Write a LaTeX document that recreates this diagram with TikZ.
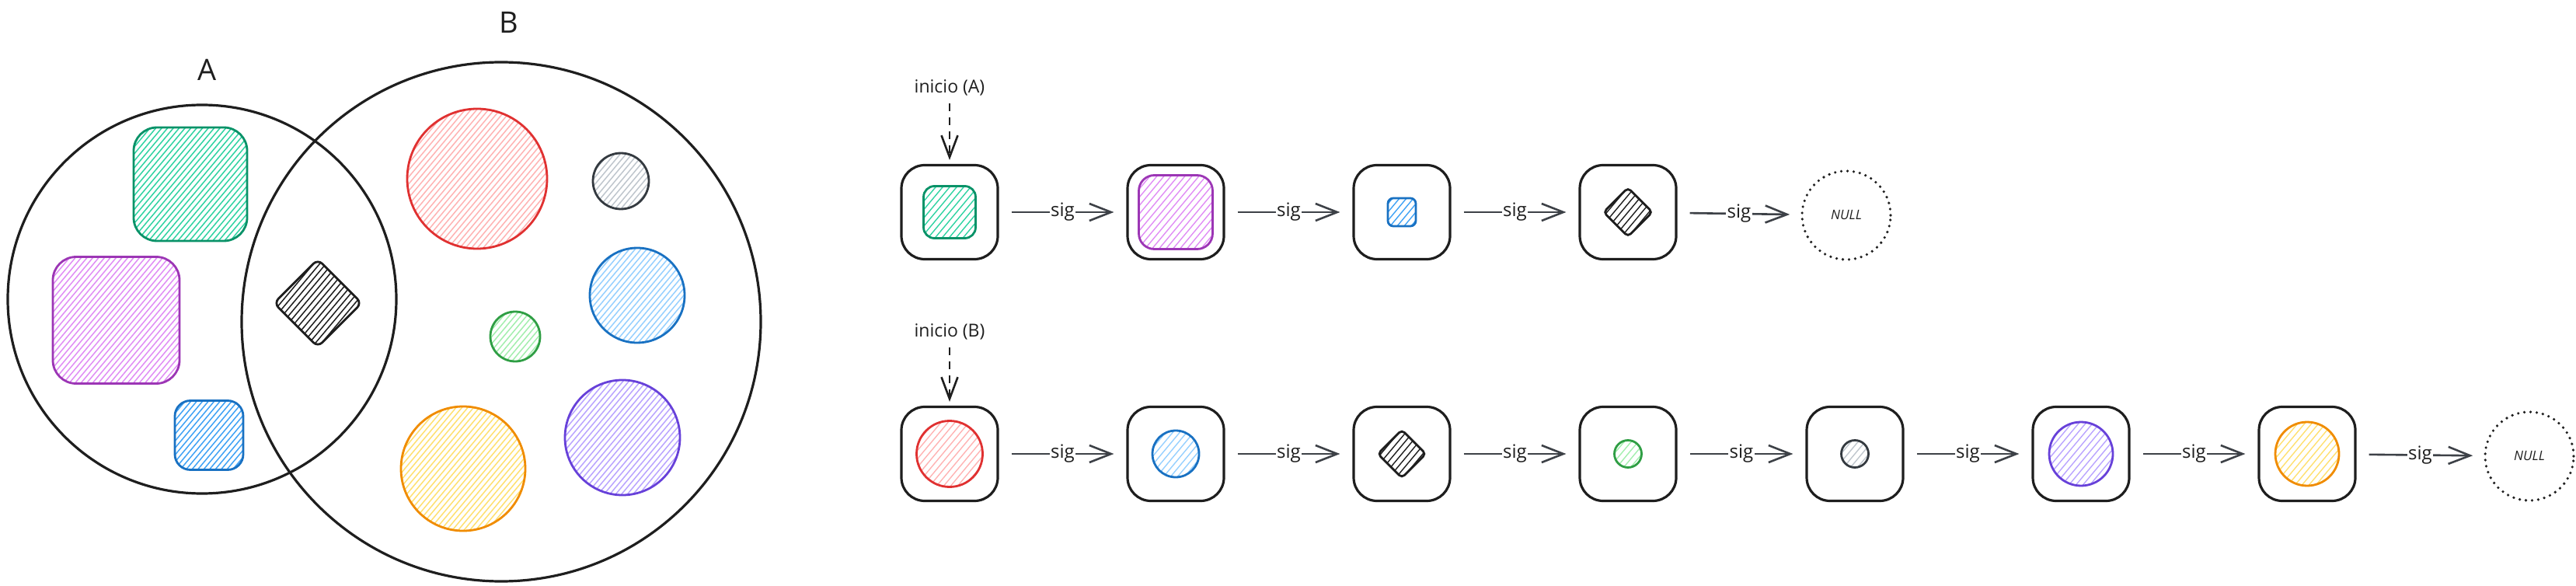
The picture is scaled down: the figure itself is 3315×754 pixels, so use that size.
\documentclass[tikz,border=0pt]{standalone}
\usepackage{fontspec}
\setmainfont{Open Sans}
\usetikzlibrary{arrows.meta,shapes.geometric}
\definecolor{ink}{HTML}{1E1E1E}
\definecolor{arrowgray}{HTML}{3D4147}
\definecolor{sgreen}{HTML}{099268}\definecolor{hgreen}{HTML}{2FD3A2}
\definecolor{spurple}{HTML}{9C36B5}\definecolor{hpurple}{HTML}{E08DF5}
\definecolor{sblue}{HTML}{1971C2}\definecolor{hblue}{HTML}{3FA2F5}
\definecolor{sred}{HTML}{E03131}\definecolor{hred}{HTML}{FFB3B3}
\definecolor{sgray}{HTML}{343A40}\definecolor{hgray}{HTML}{BFC6CD}
\definecolor{hblueb}{HTML}{96D0FF}
\definecolor{sgreenb}{HTML}{2F9E44}\definecolor{hgreenb}{HTML}{A3EEAE}
\definecolor{sorange}{HTML}{F08C00}\definecolor{horange}{HTML}{FFE070}
\definecolor{sviolet}{HTML}{6741D9}\definecolor{hviolet}{HTML}{B9A4FF}
\tikzset{
  hatch/.style n args={3}{path picture={
      \foreach \k in {-30,...,30}{
        \draw[draw=#1, line width=#3pt]
          ([xshift=\k*#2 pt]path picture bounding box.center) ++(130:260) -- ++(-50:520);
      }}},
  setc/.style={circle, draw=ink, line width=3.2pt, inner sep=0pt},
  shp/.style={line width=2.8pt, inner sep=0pt},
  box/.style={draw=ink, line width=3.2pt, rounded corners=30pt, minimum width=124pt,
    minimum height=121pt, inner sep=0pt},
  nullc/.style={circle, draw=ink, line width=3.6pt, dash pattern=on 0pt off 8pt,
    line cap=round, minimum size=114pt, inner sep=0pt,
    font=\fontsize{17}{20}\selectfont\itshape, text=ink},
  link/.style={draw=arrowgray, line width=2.6pt,
    -{Straight Barb[length=28pt,width=22pt]}, shorten <=16pt, shorten >=16pt},
  siglabel/.style={fill=white, inner sep=1.5pt, font=\fontsize{24}{26}\selectfont, text=ink},
  startlabel/.style={font=\fontsize{23}{26}\selectfont, text=ink},
  startarrow/.style={draw=ink, line width=2.6pt, dash pattern=on 10pt off 8pt,
    -{Straight Barb[length=28pt,width=21pt]}, shorten <=6pt, shorten >=5pt},
  setlabel/.style={font=\fontsize{38}{40}\selectfont, text=ink},
}
\begin{document}
\begin{tikzpicture}[x=1pt,y=-1pt]
\useasboundingbox (0,0) rectangle (3315,754);
% ---------- Venn diagram ----------
\node[setc, minimum size=500pt] (setA) at (260,385) {};
\node[setc, minimum size=668pt] (setB) at (645,414) {};
\node[setlabel] (labA) at (267,90) {A};
\node[setlabel] (labB) at (655,29) {B};
% elements of A
\node[shp, draw=sgreen, rounded corners=30pt, minimum size=146pt, hatch={hgreen}{7.5}{1.5}] (vg) at (245,237) {};
\node[shp, draw=spurple, rounded corners=30pt, minimum size=163pt, hatch={hpurple}{7.5}{1.5}] (vp) at (149.5,412) {};
\node[shp, draw=sblue, rounded corners=20pt, minimum width=88pt, minimum height=89pt, hatch={hblue}{7.5}{1.5}] (vb) at (269,560) {};
\node[shp, diamond, draw=ink, rounded corners=8pt, minimum width=114pt, minimum height=114pt, hatch={ink}{8}{1.5}] (vd) at (409,390) {};
% elements of B
\node[shp, circle, draw=sred, minimum size=180pt, hatch={hred}{7.5}{1.5}] (vr) at (614,230) {};
\node[shp, circle, draw=sgray, minimum size=72pt, hatch={hgray}{7.5}{1.5}] (vk) at (799,233) {};
\node[shp, circle, draw=sblue, minimum size=122pt, hatch={hblueb}{7.5}{1.5}] (vc) at (820,380) {};
\node[shp, circle, draw=sgreenb, minimum size=64pt, hatch={hgreenb}{7.5}{1.5}] (vs) at (663,433) {};
\node[shp, circle, draw=sorange, minimum size=160pt, hatch={horange}{7.5}{1.5}] (vo) at (596,603) {};
\node[shp, circle, draw=sviolet, minimum size=148pt, hatch={hviolet}{7.5}{1.5}] (vv) at (801,563) {};
% ---------- list A ----------
\node[box] (a1) at (1222,273) {};
\node[box] (a2) at (1513,273) {};
\node[box] (a3) at (1804,273) {};
\node[box] (a4) at (2095,273) {};
\node[nullc] (na) at (2376,277) {NULL};
\node[shp, draw=sgreen, rounded corners=14pt, minimum size=67pt, hatch={hgreen}{9}{1.4}] (ea1) at (a1) {};
\node[shp, draw=spurple, rounded corners=20pt, minimum size=95pt, hatch={hpurple}{9}{1.4}] (ea2) at (a2) {};
\node[shp, draw=sblue, rounded corners=7pt, minimum size=36pt, hatch={hblue}{9}{1.4}] (ea3) at (a3) {};
\node[shp, diamond, draw=ink, rounded corners=5pt, minimum width=64pt, minimum height=64pt, hatch={ink}{9}{1.4}] (ea4) at (a4) {};
\node[startlabel] (ia) at (1222,113) {inicio (A)};
\draw[startarrow] (ia) -- (a1);
\draw[link] (a1) -- node[siglabel] {sig} (a2);
\draw[link] (a2) -- node[siglabel] {sig} (a3);
\draw[link] (a3) -- node[siglabel] {sig} (a4);
\draw[link, shorten >=14pt] (a4) -- node[siglabel] {sig} (na);
% ---------- list B ----------
\node[box] (b1) at (1222,584) {};
\node[box] (b2) at (1513,584) {};
\node[box] (b3) at (1804,584) {};
\node[box] (b4) at (2095,584) {};
\node[box] (b5) at (2387,584) {};
\node[box] (b6) at (2678,584) {};
\node[box] (b7) at (2969,584) {};
\node[nullc] (nb) at (3255,587) {NULL};
\node[shp, circle, draw=sred, minimum size=85pt, hatch={hred}{9}{1.4}] (eb1) at (b1) {};
\node[shp, circle, draw=sblue, minimum size=60pt, hatch={hblueb}{9}{1.4}] (eb2) at (b2) {};
\node[shp, diamond, draw=ink, rounded corners=5pt, minimum width=63pt, minimum height=63pt, hatch={ink}{9}{1.4}] (eb3) at (b3) {};
\node[shp, circle, draw=sgreenb, minimum size=35pt, hatch={hgreenb}{9}{1.4}] (eb4) at (b4) {};
\node[shp, circle, draw=sgray, minimum size=35pt, hatch={hgray}{9}{1.4}] (eb5) at (b5) {};
\node[shp, circle, draw=sviolet, minimum size=82pt, hatch={hviolet}{9}{1.4}] (eb6) at (b6) {};
\node[shp, circle, draw=sorange, minimum size=82pt, hatch={horange}{9}{1.4}] (eb7) at (b7) {};
\node[startlabel] (ib) at (1222,427) {inicio (B)};
\draw[startarrow] (ib) -- (b1);
\draw[link] (b1) -- node[siglabel] {sig} (b2);
\draw[link] (b2) -- node[siglabel] {sig} (b3);
\draw[link] (b3) -- node[siglabel] {sig} (b4);
\draw[link] (b4) -- node[siglabel] {sig} (b5);
\draw[link] (b5) -- node[siglabel] {sig} (b6);
\draw[link] (b6) -- node[siglabel] {sig} (b7);
\draw[link, shorten >=14pt] (b7) -- node[siglabel] {sig} (nb);
\end{tikzpicture}
\end{document}
